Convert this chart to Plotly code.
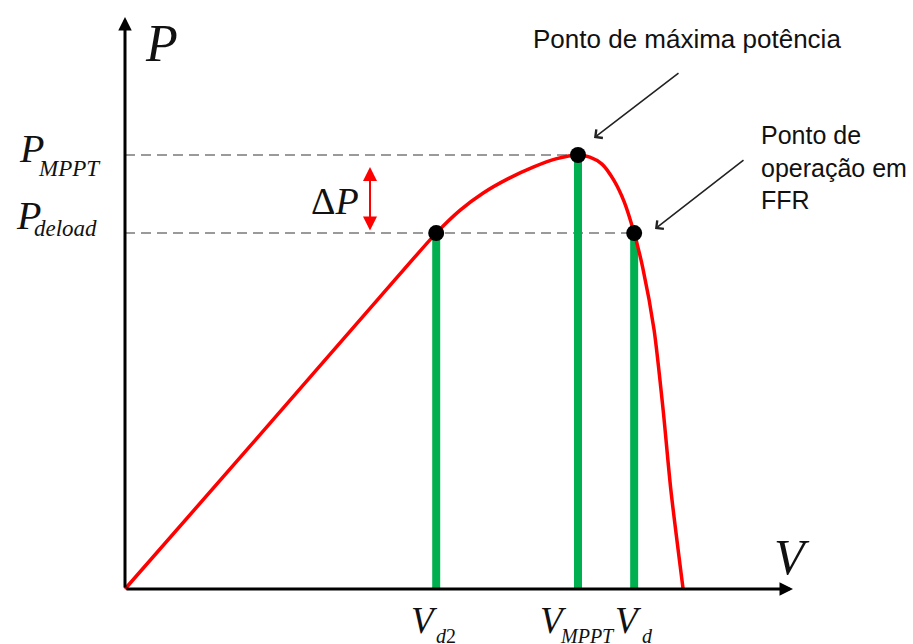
import plotly.graph_objects as go

# ---- data (normalised units: V / V_MPPT, P / P_MPPT) ----
curve_v = [0.0, 0.276, 0.563, 0.687, 0.740, 0.790, 0.845, 0.901, 0.951, 1.000,
           1.026, 1.053, 1.079, 1.102, 1.124, 1.143, 1.168, 1.188, 1.205, 1.232]
curve_p = [0.0, 0.329, 0.673, 0.820, 0.873, 0.912, 0.945, 0.972, 0.991, 1.000,
           0.995, 0.979, 0.942, 0.892, 0.820, 0.740, 0.597, 0.412, 0.228, 0.0]

op_names = ["Vd2", "VMPPT", "Vd"]
op_v = [0.687, 1.000, 1.124]
op_p = [0.820, 1.000, 0.820]
P_MPPT = 1.000
P_DELOAD = 0.820

# ---- layout constants (pixel frame of the 913x644 picture) ----
W, H = 913, 644
X0, Y0, SX, SY = 125, 589, 453, 434


def px(x):
    return x / W


def py(y):
    return 1 - y / H


fig = go.Figure()

# dashed reference lines
fig.add_trace(go.Scatter(x=[0, op_v[1]], y=[P_MPPT, P_MPPT], mode="lines",
                         line=dict(color="#9a9a9a", width=2, dash="10px,6px"),
                         hoverinfo="skip", showlegend=False))
fig.add_trace(go.Scatter(x=[0, op_v[2]], y=[P_DELOAD, P_DELOAD], mode="lines",
                         line=dict(color="#9a9a9a", width=2, dash="10px,6px"),
                         hoverinfo="skip", showlegend=False))

# green stems
stem_x, stem_y = [], []
for v, p in zip(op_v, op_p):
    stem_x += [v, v, None]
    stem_y += [0, p, None]
fig.add_trace(go.Scatter(x=stem_x, y=stem_y, mode="lines",
                         line=dict(color="#00B050", width=8),
                         hoverinfo="skip", showlegend=False))

# P-V curve
fig.add_trace(go.Scatter(x=curve_v, y=curve_p, mode="lines",
                         line=dict(color="#FF0000", width=3.5, shape="spline", smoothing=0.7),
                         hoverinfo="skip", showlegend=False))

# operating points
fig.add_trace(go.Scatter(x=op_v, y=op_p, mode="markers",
                         marker=dict(color="black", size=16),
                         hoverinfo="skip", showlegend=False))

ann = []
# axes arrows (data coords)
V_END = (793 - X0) / SX
P_TOP = (Y0 - 17) / SY
ann.append(dict(x=0, y=P_TOP, ax=0, ay=0, xref="x", yref="y", axref="x", ayref="y",
                text="", showarrow=True, arrowhead=2, arrowsize=0.9, arrowwidth=3,
                arrowcolor="black"))
ann.append(dict(x=V_END, y=0, ax=0, ay=0, xref="x", yref="y", axref="x", ayref="y",
                text="", showarrow=True, arrowhead=2, arrowsize=0.9, arrowwidth=3,
                arrowcolor="black"))

# red double arrow (delta P)
ann.append(dict(x=px(370), y=py(167), ax=0, ay=232 - 167, xref="paper", yref="paper",
                text="", showarrow=True, arrowhead=2, startarrowhead=2,
                arrowside="end+start", arrowsize=1.4, startarrowsize=1.4,
                arrowwidth=2, arrowcolor="#FF0000"))

# black pointer arrows
ann.append(dict(x=px(594), y=py(138), ax=680 - 594, ay=72 - 138, xref="paper", yref="paper",
                text="", showarrow=True, arrowhead=4, arrowsize=1.3, arrowwidth=1.6,
                arrowcolor="#222222"))
ann.append(dict(x=px(655), y=py(229), ax=745 - 655, ay=159 - 229, xref="paper", yref="paper",
                text="", showarrow=True, arrowhead=4, arrowsize=1.3, arrowwidth=1.6,
                arrowcolor="#222222"))

serif = "Liberation Serif"
sans = "Liberation Sans"


def label(text, x, y, size, family=serif, xanchor="center", align="center"):
    ann.append(dict(x=px(x), y=py(y), xref="paper", yref="paper", text=text,
                    showarrow=False, xanchor=xanchor, yanchor="middle", align=align,
                    font=dict(family=family, size=size, color="#111111")))


label("<i>P</i>", 161, 43, 52)
label("<i>V</i>", 792, 557, 50)
label("<i>P</i>", 31, 149, 40)
label("<i>MPPT</i>", 69, 168, 23)
label("<i>P</i>", 28, 215, 40)
label("<i>deload</i>", 65, 229, 23)
label("Δ<i>P</i>", 335, 201, 38)

label("<i>V</i>", 424, 620, 37)
label("<i>d</i>2", 446, 636, 20)
label("<i>V</i>", 553, 620, 37)
label("<i>MPPT</i>", 587, 636, 20)
label("<i>V</i>", 628, 620, 37)
label("<i>d</i>", 647, 636, 20)

label("Ponto de máxima potência", 687, 39, 26, family=sans)
label("Ponto de<br>operação em<br>FFR", 759, 167, 25, family=sans, xanchor="left", align="left")

fig.update_layout(
    width=W, height=H,
    margin=dict(l=0, r=0, t=0, b=0),
    paper_bgcolor="white", plot_bgcolor="white",
    xaxis=dict(range=[-X0 / SX, (W - X0) / SX], visible=False, fixedrange=True),
    yaxis=dict(range=[(Y0 - H) / SY, Y0 / SY], visible=False, fixedrange=True),
    annotations=ann,
    showlegend=False,
)

fig.write_html("out.html", config={"displayModeBar": False},
               post_script="document.body.style.margin='0';")
